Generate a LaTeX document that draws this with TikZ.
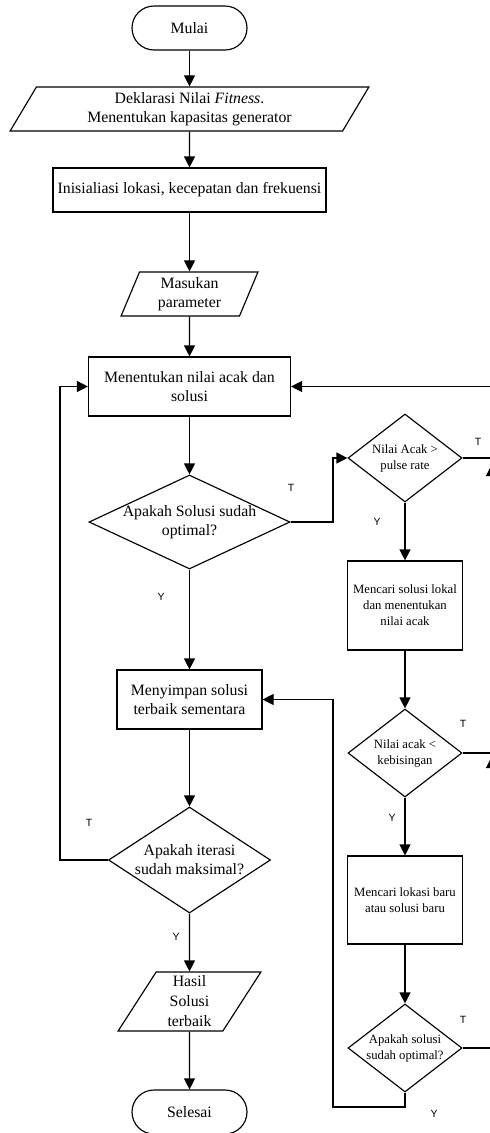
\documentclass[tikz,border=0pt]{standalone}
\usepackage{fontspec}
\setmainfont{Liberation Serif}
\newfontfamily\lblfont{Liberation Sans}
\usetikzlibrary{shapes.geometric,arrows.meta,calc}
\begin{document}
\begin{tikzpicture}[x=1pt,y=-1pt,
  line width=1.15pt,
  arr/.style={-{Triangle[length=11pt,width=11pt]}},
  mainf/.style={font=\fontsize{15.8}{19}\selectfont},
  smallf/.style={font=\fontsize{12.7}{16}\selectfont},
  term/.style={draw,rectangle,rounded corners=22pt,minimum width=115pt,minimum height=44pt,mainf},
  proc/.style={draw,rectangle,align=center,inner sep=1pt},
  io/.style={draw,trapezium,trapezium stretches=true,align=center,inner sep=1pt,mainf},
  dec/.style={draw,diamond,inner sep=0pt},
  dtext/.style={align=center},
  yt/.style={font=\lblfont\fontsize{10.5}{12}\selectfont}
]
\useasboundingbox (0,0) rectangle (490,1133);

% left column
\node[term] (start) at (189.5,28) {Mulai};
\node[io,minimum width=360pt,minimum height=44pt,trapezium left angle=63.4,trapezium right angle=116.6] (decl) at (189.5,109) {Deklarasi Nilai \textit{Fitness}.\\Menentukan kapasitas generator};
\node[proc,mainf,minimum width=273pt,minimum height=44pt] (init) at (189.5,190) {Inisialiasi lokasi, kecepatan dan frekuensi};
\node[io,minimum width=137pt,minimum height=44pt,trapezium left angle=71.2,trapezium right angle=108.8] (inp) at (189.5,294) {Masukan\\parameter};
\node[proc,mainf,minimum width=202pt,minimum height=59pt] (rand) at (189.5,386.5) {Menentukan nilai acak dan\\solusi};
\node[dec,minimum width=201pt,minimum height=94pt,label={[mainf,dtext]center:{Apakah Solusi sudah\\optimal?}}] (d1) at (189.5,522) {};
\node[proc,mainf,minimum width=145pt,minimum height=59pt] (save) at (189.5,699.5) {Menyimpan solusi\\terbaik sementara};
\node[dec,minimum width=162pt,minimum height=106pt,label={[mainf,dtext]center:{Apakah iterasi\\sudah maksimal?}}] (d5) at (189.5,860) {};
\node[io,minimum width=144pt,minimum height=59pt,trapezium left angle=63.8,trapezium right angle=116.2,font=\fontsize{15.8}{20}\selectfont] (res) at (189.5,1001.5) {Hasil\\Solusi\\terbaik};
\node[term] (end) at (189.5,1112) {Selesai};

% right column
\node[dec,minimum width=114pt,minimum height=88pt,label={[smallf,dtext]center:{Nilai Acak >\\pulse rate}}] (d2) at (405,458) {};
\node[proc,smallf,minimum width=115pt,minimum height=89pt] (loc) at (405,605.5) {Mencari solusi lokal\\dan menentukan\\nilai acak};
\node[dec,minimum width=114pt,minimum height=88pt,label={[smallf,dtext]center:{Nilai acak <\\kebisingan}}] (d3) at (405,753) {};
\node[proc,smallf,minimum width=115pt,minimum height=88pt] (new) at (405,900) {Mencari lokasi baru\\atau solusi baru};
\node[dec,minimum width=114pt,minimum height=88pt,label={[smallf,dtext]center:{Apakah solusi\\sudah optimal?}}] (d4) at (405,1048) {};

% main flow
\draw[arr] (start) -- (decl);
\draw[arr] (decl) -- (init);
\draw[arr] (init) -- (inp);
\draw[arr] (inp) -- (rand);
\draw[arr] (rand) -- (d1);
\draw[arr] (d1) -- (save);
\draw[arr] (save) -- (d5);
\draw[arr] (d5) -- (res);
\draw[arr] (res) -- (end);

\draw[arr] (d2) -- (loc);
\draw[arr] (loc) -- (d3);
\draw[arr] (d3) -- (new);
\draw[arr] (new) -- (d4);

% branches
\coordinate (j1) at (333,522);
\draw[arr] (d1.east) -- (j1) |- (d2.west);
\coordinate (j2) at (405,1107);
\coordinate (j3) at (333,1107);
\draw[arr] (d4.south) -- (j2) -- (j3) |- (save.east);
\coordinate (j4) at (60,860);
\draw[arr] (d5.west) -- (j4) |- (rand.west);

% right edge (cut off)
\coordinate (e4) at (491.5,1048);
\coordinate (e1) at (491.5,386.5);
\draw[arr] (d4.east) -- (e4) -- (e1) -- (rand.east);
\draw (d2.east) -- (d2.east -| e1);
\draw (d3.east) -- (d3.east -| e1);
\coordinate (a2s) at (491.5,476);
\coordinate (a2t) at (491.5,465);
\draw[arr] (a2s) -- (a2t);
\coordinate (a3s) at (491.5,768);
\coordinate (a3t) at (491.5,757);
\draw[arr] (a3s) -- (a3t);

% labels
\node[yt] (t1) at (291,488) {T};
\node[yt] (y1) at (161,597) {Y};
\node[yt] (t2) at (478,442) {T};
\node[yt] (y2) at (377,522) {Y};
\node[yt] (t3) at (463,724) {T};
\node[yt] (y3) at (392,818) {Y};
\node[yt] (t4) at (463,1020) {T};
\node[yt] (y4) at (434,1114) {Y};
\node[yt] (t5) at (89,823) {T};
\node[yt] (y5) at (176,937) {Y};
\end{tikzpicture}
\end{document}
